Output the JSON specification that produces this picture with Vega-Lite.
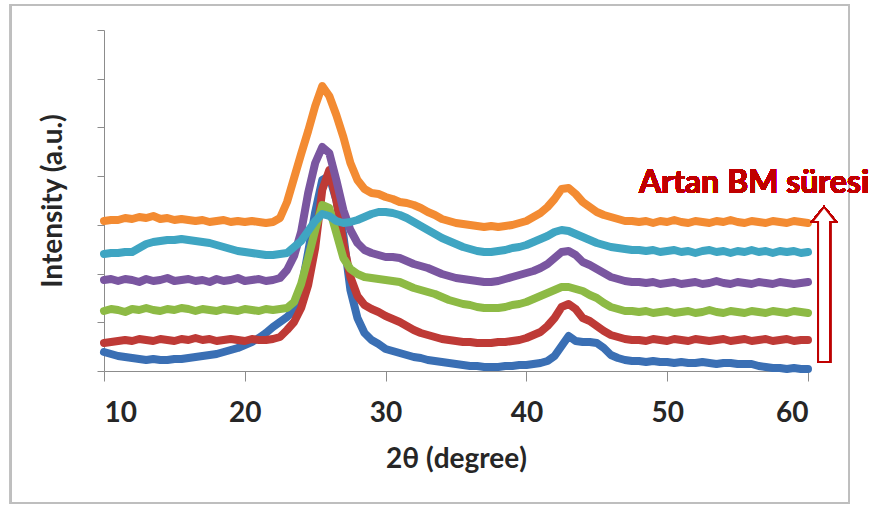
{
  "$schema": "https://vega.github.io/schema/vega-lite/v6.json",
  "width": 704,
  "height": 341,
  "autosize": "none",
  "padding": {"left": 104, "top": 30, "right": 66, "bottom": 135},
  "background": "white",
  "config": {"view": {"stroke": null}, "font": "Lato"},
  "data": {"values": [
    {"x":10,"s1":19,"s2":28,"s3":60,"s4":91,"s5":117,"s6":150},
    {"x":10.5,"s1":17,"s2":29,"s3":62,"s4":92,"s5":118,"s6":151},
    {"x":11,"s1":15,"s2":30,"s3":61,"s4":90,"s5":118,"s6":151},
    {"x":11.5,"s1":14,"s2":31,"s3":59,"s4":92,"s5":119,"s6":153},
    {"x":12,"s1":13,"s2":30,"s3":62,"s4":91,"s5":119,"s6":152},
    {"x":12.5,"s1":12,"s2":32,"s3":61,"s4":89,"s5":123,"s6":154},
    {"x":13,"s1":11,"s2":31,"s3":63,"s4":92,"s5":127,"s6":153},
    {"x":13.5,"s1":12,"s2":30,"s3":61,"s4":90,"s5":129,"s6":155},
    {"x":14,"s1":11,"s2":32,"s3":60,"s4":91,"s5":130,"s6":152},
    {"x":14.5,"s1":11,"s2":31,"s3":62,"s4":93,"s5":131,"s6":153},
    {"x":15,"s1":12,"s2":30,"s3":61,"s4":90,"s5":131,"s6":151},
    {"x":15.5,"s1":12,"s2":32,"s3":63,"s4":91,"s5":132,"s6":152},
    {"x":16,"s1":13,"s2":31,"s3":62,"s4":92,"s5":131,"s6":151},
    {"x":16.5,"s1":14,"s2":33,"s3":60,"s4":90,"s5":130,"s6":150},
    {"x":17,"s1":15,"s2":31,"s3":62,"s4":91,"s5":129,"s6":151},
    {"x":17.5,"s1":16,"s2":32,"s3":61,"s4":89,"s5":128,"s6":149},
    {"x":18,"s1":17,"s2":30,"s3":60,"s4":92,"s5":126,"s6":150},
    {"x":18.5,"s1":19,"s2":31,"s3":62,"s4":90,"s5":124,"s6":151},
    {"x":19,"s1":21,"s2":32,"s3":61,"s4":91,"s5":122,"s6":149},
    {"x":19.5,"s1":23,"s2":31,"s3":60,"s4":93,"s5":120,"s6":150},
    {"x":20,"s1":26,"s2":30,"s3":62,"s4":90,"s5":119,"s6":149},
    {"x":20.5,"s1":29,"s2":32,"s3":61,"s4":91,"s5":118,"s6":150},
    {"x":21,"s1":33,"s2":31,"s3":60,"s4":92,"s5":117,"s6":149},
    {"x":21.5,"s1":38,"s2":31,"s3":62,"s4":90,"s5":116,"s6":148},
    {"x":22,"s1":44,"s2":32,"s3":61,"s4":91,"s5":116,"s6":149},
    {"x":22.5,"s1":49,"s2":34,"s3":62,"s4":93,"s5":117,"s6":153},
    {"x":23,"s1":54,"s2":41,"s3":63,"s4":101,"s5":118,"s6":169},
    {"x":23.5,"s1":61,"s2":49,"s3":69,"s4":115,"s5":124,"s6":193},
    {"x":24,"s1":81,"s2":63,"s3":87,"s4":139,"s5":130,"s6":217},
    {"x":24.5,"s1":119,"s2":86,"s3":113,"s4":178,"s5":140,"s6":240},
    {"x":25,"s1":159,"s2":123,"s3":141,"s4":208,"s5":150,"s6":265},
    {"x":25.5,"s1":191,"s2":181,"s3":166,"s4":224,"s5":157,"s6":285},
    {"x":26,"s1":195,"s2":201,"s3":163,"s4":218,"s5":155,"s6":275},
    {"x":26.5,"s1":171,"s2":171,"s3":138,"s4":191,"s5":150,"s6":256},
    {"x":27,"s1":136,"s2":128,"s3":113,"s4":161,"s5":148,"s6":234},
    {"x":27.5,"s1":81,"s2":94,"s3":102,"s4":141,"s5":149,"s6":208},
    {"x":28,"s1":53,"s2":75,"s3":97,"s4":128,"s5":151,"s6":191},
    {"x":28.5,"s1":38,"s2":66,"s3":94,"s4":121,"s5":154,"s6":182},
    {"x":29,"s1":31,"s2":62,"s3":93,"s4":118,"s5":157,"s6":178},
    {"x":29.5,"s1":27,"s2":59,"s3":92,"s4":116,"s5":159,"s6":177},
    {"x":30,"s1":22,"s2":55,"s3":91,"s4":114,"s5":159,"s6":174},
    {"x":30.5,"s1":20,"s2":52,"s3":90,"s4":114,"s5":158,"s6":172},
    {"x":31,"s1":18,"s2":49,"s3":89,"s4":113,"s5":156,"s6":169},
    {"x":31.5,"s1":16,"s2":45,"s3":86,"s4":110,"s5":153,"s6":168},
    {"x":32,"s1":14,"s2":41,"s3":83,"s4":107,"s5":149,"s6":166},
    {"x":32.5,"s1":13,"s2":38,"s3":81,"s4":105,"s5":145,"s6":163},
    {"x":33,"s1":11,"s2":36,"s3":79,"s4":103,"s5":141,"s6":159},
    {"x":33.5,"s1":10,"s2":34,"s3":77,"s4":100,"s5":137,"s6":156},
    {"x":34,"s1":9,"s2":32,"s3":74,"s4":97,"s5":133,"s6":152},
    {"x":34.5,"s1":8,"s2":31,"s3":71,"s4":95,"s5":130,"s6":150},
    {"x":35,"s1":7,"s2":30,"s3":69,"s4":93,"s5":127,"s6":148},
    {"x":35.5,"s1":6,"s2":29,"s3":67,"s4":92,"s5":124,"s6":147},
    {"x":36,"s1":5,"s2":29,"s3":66,"s4":91,"s5":122,"s6":146},
    {"x":36.5,"s1":5,"s2":28,"s3":64,"s4":90,"s5":120,"s6":145},
    {"x":37,"s1":4,"s2":28,"s3":63,"s4":89,"s5":119,"s6":144},
    {"x":37.5,"s1":4,"s2":28,"s3":63,"s4":89,"s5":119,"s6":145},
    {"x":38,"s1":4,"s2":29,"s3":63,"s4":90,"s5":120,"s6":144},
    {"x":38.5,"s1":5,"s2":29,"s3":64,"s4":92,"s5":121,"s6":145},
    {"x":39,"s1":5,"s2":30,"s3":66,"s4":94,"s5":123,"s6":146},
    {"x":39.5,"s1":6,"s2":31,"s3":67,"s4":96,"s5":124,"s6":148},
    {"x":40,"s1":6,"s2":33,"s3":69,"s4":98,"s5":126,"s6":150},
    {"x":40.5,"s1":7,"s2":36,"s3":72,"s4":100,"s5":129,"s6":154},
    {"x":41,"s1":8,"s2":39,"s3":75,"s4":103,"s5":132,"s6":158},
    {"x":41.5,"s1":10,"s2":45,"s3":78,"s4":107,"s5":135,"s6":164},
    {"x":42,"s1":15,"s2":53,"s3":81,"s4":113,"s5":139,"s6":172},
    {"x":42.5,"s1":25,"s2":64,"s3":84,"s4":119,"s5":141,"s6":182},
    {"x":43,"s1":35,"s2":67,"s3":84,"s4":120,"s5":140,"s6":183},
    {"x":43.5,"s1":30,"s2":62,"s3":82,"s4":116,"s5":137,"s6":177},
    {"x":44,"s1":29,"s2":53,"s3":80,"s4":109,"s5":134,"s6":169},
    {"x":44.5,"s1":29,"s2":50,"s3":76,"s4":106,"s5":131,"s6":164},
    {"x":45,"s1":28,"s2":45,"s3":73,"s4":102,"s5":128,"s6":159},
    {"x":45.5,"s1":23,"s2":40,"s3":68,"s4":98,"s5":126,"s6":156},
    {"x":46,"s1":16,"s2":36,"s3":64,"s4":94,"s5":124,"s6":154},
    {"x":46.5,"s1":13,"s2":34,"s3":62,"s4":92,"s5":123,"s6":152},
    {"x":47,"s1":11,"s2":32,"s3":60,"s4":90,"s5":122,"s6":150},
    {"x":47.5,"s1":10,"s2":31,"s3":60,"s4":89,"s5":121,"s6":150},
    {"x":48,"s1":10,"s2":31,"s3":59,"s4":89,"s5":121,"s6":149},
    {"x":48.5,"s1":9,"s2":30,"s3":60,"s4":88,"s5":120,"s6":150},
    {"x":49,"s1":10,"s2":32,"s3":58,"s4":89,"s5":121,"s6":148},
    {"x":49.5,"s1":9,"s2":31,"s3":59,"s4":87,"s5":119,"s6":150},
    {"x":50,"s1":9,"s2":30,"s3":60,"s4":88,"s5":120,"s6":149},
    {"x":50.5,"s1":8,"s2":32,"s3":58,"s4":89,"s5":121,"s6":151},
    {"x":51,"s1":9,"s2":31,"s3":59,"s4":87,"s5":119,"s6":149},
    {"x":51.5,"s1":8,"s2":30,"s3":60,"s4":88,"s5":120,"s6":148},
    {"x":52,"s1":8,"s2":32,"s3":58,"s4":89,"s5":118,"s6":150},
    {"x":52.5,"s1":9,"s2":31,"s3":59,"s4":87,"s5":120,"s6":149},
    {"x":53,"s1":8,"s2":30,"s3":61,"s4":88,"s5":121,"s6":148},
    {"x":53.5,"s1":7,"s2":31,"s3":59,"s4":90,"s5":119,"s6":150},
    {"x":54,"s1":8,"s2":32,"s3":58,"s4":88,"s5":120,"s6":149},
    {"x":54.5,"s1":8,"s2":30,"s3":60,"s4":87,"s5":118,"s6":151},
    {"x":55,"s1":7,"s2":31,"s3":59,"s4":89,"s5":120,"s6":149},
    {"x":55.5,"s1":7,"s2":32,"s3":58,"s4":88,"s5":119,"s6":148},
    {"x":56,"s1":7,"s2":30,"s3":60,"s4":87,"s5":121,"s6":150},
    {"x":56.5,"s1":5,"s2":31,"s3":59,"s4":89,"s5":119,"s6":149},
    {"x":57,"s1":4,"s2":32,"s3":58,"s4":88,"s5":120,"s6":148},
    {"x":57.5,"s1":3,"s2":30,"s3":60,"s4":87,"s5":118,"s6":150},
    {"x":58,"s1":3,"s2":31,"s3":59,"s4":89,"s5":120,"s6":149},
    {"x":58.5,"s1":2,"s2":32,"s3":58,"s4":88,"s5":119,"s6":148},
    {"x":59,"s1":3,"s2":30,"s3":60,"s4":87,"s5":120,"s6":150},
    {"x":59.5,"s1":2,"s2":31,"s3":59,"s4":88,"s5":118,"s6":149},
    {"x":60,"s1":2,"s2":31,"s3":58,"s4":89,"s5":119,"s6":148}
  ]},
  "layer": [
    {
      "mark": {"type": "rect", "filled": false, "stroke": "#BFBFBF", "strokeWidth": 1.5, "clip": false},
      "encoding": {
        "x": {"datum": 3.36, "type": "quantitative", "scale": {"domain": [10, 60], "nice": false}},
        "x2": {"datum": 62.91},
        "y": {"datum": 366, "type": "quantitative", "scale": {"domain": [0, 341], "nice": false}},
        "y2": {"datum": -132}
      }
    },
    {
      "transform": [{"fold": ["s1", "s2", "s3", "s4", "s5", "s6"], "as": ["series", "intensity"]}],
      "mark": {"type": "line", "strokeWidth": 8, "strokeJoin": "round", "strokeCap": "round"},
      "encoding": {
        "x": {
          "field": "x", "type": "quantitative",
          "scale": {"domain": [10, 60], "nice": false},
          "axis": {
            "values": [10, 20, 30, 40, 50, 60], "grid": false,
            "tickSize": 10, "tickColor": "#8C8C8C", "domainColor": "#8C8C8C",
            "labelFont": "Lato", "labelFontSize": 28, "labelFontWeight": "bold", "labelColor": "#262626", "labelPadding": 18,
            "title": "2θ (degree)", "titleFont": "Lato", "titleFontSize": 28, "titleFontWeight": "bold", "titleColor": "#262626", "titlePadding": 18
          }
        },
        "y": {
          "field": "intensity", "type": "quantitative",
          "scale": {"domain": [0, 341], "nice": false},
          "axis": {
            "values": [0, 48.71, 97.43, 146.14, 194.86, 243.57, 292.29, 341], "grid": false, "labels": false,
            "tickSize": 7, "tickColor": "#8C8C8C", "domainColor": "#8C8C8C",
            "title": "Intensity (a.u.)", "titleFont": "Lato", "titleFontSize": 28, "titleFontWeight": "bold", "titleColor": "#262626", "titlePadding": 29
          }
        },
        "color": {
          "field": "series", "type": "nominal", "legend": null,
          "scale": {"domain": ["s1", "s2", "s3", "s4", "s5", "s6"], "range": ["#3A6FB4", "#BE3A36", "#8DBA45", "#7A56A0", "#3FA5C2", "#F38B32"]}
        }
      }
    },
    {
      "mark": {"type": "text", "text": "Artan BM süresi", "font": "Lato", "fontSize": 32, "fontWeight": "bold", "color": "#C00000", "align": "left", "baseline": "alphabetic", "clip": false},
      "encoding": {
        "x": {"datum": 48.0, "type": "quantitative"},
        "y": {"datum": 178, "type": "quantitative"}
      }
    },
    {
      "mark": {"type": "point", "shape": "M0,-1 L0.155,-0.806 L0.077,-0.806 L0.077,1 L-0.077,1 L-0.077,-0.806 L-0.155,-0.806 Z", "size": 24025, "filled": true, "fill": "white", "stroke": "#C00000", "strokeWidth": 2, "opacity": 1, "clip": false},
      "encoding": {
        "x": {"datum": 61.14, "type": "quantitative"},
        "y": {"datum": 86.5, "type": "quantitative"}
      }
    }
  ]
}
